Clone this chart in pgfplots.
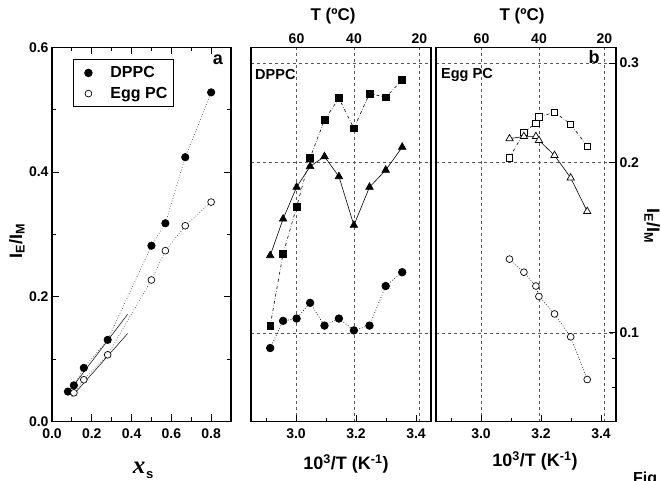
\documentclass[border=0pt]{standalone}
\usepackage{fontspec}
\setmainfont{Liberation Sans}
\newfontfamily\seriffont{Liberation Serif}
\usepackage{pgfplots}
\pgfplotsset{compat=1.18}

\pgfplotsset{
  panel/.style={
    scale only axis, height=374pt, anchor=south west,
    axis line style={line width=1.2pt},
    tick style={line width=0.9pt, black},
    tick align=inside, major tick length=7pt, minor tick length=4pt,
    tick label style={font=\fontsize{14}{14}\selectfont\bfseries},
    xticklabel style={yshift=-4pt},
    /pgf/number format/assume math mode=true,
    major grid style={dashed, gray!70!black, line width=0.5pt},
  },
  filled/.style={mark options={solid, fill=black, draw=black}},
  open/.style={mark options={solid, fill=white, draw=black, line width=0.7pt}},
}
\def\lymin{0.0697}
\def\lymax{0.3196}

\begin{document}
\begin{tikzpicture}
\path[use as bounding box] (0pt,0pt) rectangle (661pt,481pt);

% ---- panel a ----
\begin{axis}[panel, at={(52pt,59.5pt)}, width=179pt,
  xmin=0, xmax=0.9, ymin=0, ymax=0.6,
  xtick={0,0.2,0.4,0.6,0.8}, xticklabels={0.0,0.2,0.4,0.6,0.8},
  minor xtick={0.1,0.3,0.5,0.7},
  ytick={0,0.2,0.4,0.6}, yticklabels={0.0,0.2,0.4,0.6},
  minor ytick={0.1,0.3,0.5},
  legend style={at={(0.117,0.969)}, anchor=north west, draw=black,
    line width=1pt, font=\fontsize{16}{16}\selectfont\bfseries,
    inner xsep=4pt, inner ysep=5pt, row sep=4pt},
  legend cell align=left,
  legend image code/.code={\path[draw=none] (0pt,0pt) -- (31pt,0pt); \draw[#1, draw=none] plot coordinates {(11pt,0pt)};},
]
\addlegendimage{only marks, mark=*, mark size=3.7pt, filled}
\addlegendentry{DPPC}
\addlegendimage{only marks, mark=*, mark size=3.4pt, open}
\addlegendentry{Egg PC}
% DPPC
\addplot[forget plot, dotted, gray!60!black, line width=0.7pt, mark=*, mark size=3.7pt, filled]
  coordinates {(0.08,0.048) (0.11,0.058) (0.16,0.086) (0.28,0.131) (0.50,0.282) (0.57,0.318) (0.67,0.424) (0.80,0.528)};
% Egg PC
\addplot[forget plot, dotted, gray!60!black, line width=0.7pt, mark=*, mark size=3.4pt, open]
  coordinates {(0.11,0.046) (0.16,0.067) (0.28,0.107) (0.50,0.227) (0.57,0.274) (0.67,0.314) (0.80,0.352)};
% linear fits
\addplot[forget plot, black, line width=0.5pt] coordinates {(0.09,0.050) (0.38,0.172)};
\addplot[forget plot, black, line width=0.5pt] coordinates {(0.10,0.040) (0.38,0.141)};
\end{axis}

% ---- middle panel (DPPC) ----
\begin{axis}[panel, at={(251pt,59.5pt)}, width=180pt,
  xmin=2.85, xmax=3.45, ymode=log, ymin=\lymin, ymax=\lymax,
  axis line style={draw=none},
  xtick={3.0017,3.1934,3.4112}, xticklabels={60,40,20},
  xtick pos=top, xticklabel pos=top, xtick style={draw=none},
  xticklabel style={yshift=4pt},
  xmajorgrids, ytick=\empty]
\end{axis}
\begin{axis}[panel, at={(251pt,59.5pt)}, width=180pt,
  xmin=2.85, xmax=3.45, ymode=log, ymin=\lymin, ymax=\lymax,
  xtick={3.0,3.2,3.4}, xticklabels={3.0,3.2,3.4},
  minor xtick={2.9,3.1,3.3}, xtick pos=bottom,
  ytick={0.1,0.2,0.3}, yticklabels={}, ytick style={draw=none},
  ymajorgrids]
\addplot[black, dash dot, line width=0.6pt, mark=square*, mark size=3.4pt, filled]
  coordinates {(2.914,0.103) (2.957,0.138) (3.002,0.167) (3.047,0.204) (3.095,0.238)
               (3.143,0.260) (3.193,0.230) (3.245,0.265) (3.299,0.261) (3.354,0.280)};
\addplot[black, solid, line width=0.6pt, mark=triangle*, mark size=4.4pt, filled]
  coordinates {(2.914,0.137) (2.957,0.159) (3.002,0.181) (3.047,0.197) (3.095,0.205)
               (3.143,0.189) (3.193,0.155) (3.245,0.181) (3.299,0.194) (3.354,0.213)};
\addplot[black, dotted, line width=0.7pt, mark=*, mark size=3.8pt, filled]
  coordinates {(2.914,0.094) (2.957,0.105) (3.002,0.106) (3.047,0.113) (3.095,0.103)
               (3.143,0.106) (3.193,0.101) (3.245,0.103) (3.299,0.121) (3.354,0.128)};
\end{axis}

% ---- right panel (Egg PC) ----
\begin{axis}[panel, at={(436pt,59.5pt)}, width=180pt,
  xmin=2.85, xmax=3.45, ymode=log, ymin=\lymin, ymax=\lymax,
  axis line style={draw=none},
  xtick={3.0017,3.1934,3.4112}, xticklabels={60,40,20},
  xtick pos=top, xticklabel pos=top, xtick style={draw=none},
  xticklabel style={yshift=4pt},
  xmajorgrids, ytick=\empty]
\end{axis}
\begin{axis}[panel, at={(436pt,59.5pt)}, width=180pt,
  xmin=2.85, xmax=3.45, ymode=log, ymin=\lymin, ymax=\lymax,
  xtick={3.0,3.2,3.4}, xticklabels={3.0,3.2,3.4},
  minor xtick={2.9,3.1,3.3}, xtick pos=bottom,
  ytick={0.1,0.2,0.3}, yticklabels={0.1,0.2,0.3},
  minor ytick={0.08,0.09},
  ytick pos=right, yticklabel pos=right,
  ymajorgrids]
\addplot[black, dash dot, line width=0.6pt, mark=square*, mark size=3.1pt, open]
  coordinates {(3.095,0.204) (3.143,0.226) (3.183,0.235) (3.193,0.241) (3.245,0.2455) (3.299,0.234) (3.354,0.214)};
\addplot[black, solid, line width=0.6pt, mark=triangle*, mark size=4.2pt, open]
  coordinates {(3.095,0.2205) (3.143,0.2225) (3.183,0.2225) (3.193,0.219) (3.245,0.206) (3.299,0.188) (3.354,0.164)};
\addplot[black, dotted, line width=0.7pt, mark=*, mark size=3.4pt, open]
  coordinates {(3.095,0.135) (3.143,0.128) (3.183,0.121) (3.193,0.116) (3.245,0.108) (3.299,0.0984) (3.354,0.0827)};
\end{axis}

% ---- texts ----
\begin{scope}[every node/.style={inner sep=0pt, font=\bfseries}]
\node[anchor=base, font=\fontsize{18}{18}\selectfont\bfseries] at (218pt,416pt) {a};
\node[anchor=base, font=\fontsize{18}{18}\selectfont\bfseries] at (594pt,417pt) {b};
\node[anchor=base west, font=\fontsize{14.5}{14.5}\selectfont\bfseries] at (255pt,401pt) {DPPC};
\node[anchor=base west, font=\fontsize{14.5}{14.5}\selectfont\bfseries] at (441pt,402pt) {Egg PC};
\node[anchor=base, font=\fontsize{17}{17}\selectfont\bfseries] at (333pt,460.5pt) {T (ºC)};
\node[anchor=base, font=\fontsize{17}{17}\selectfont\bfseries] at (522pt,460.5pt) {T (ºC)};
\node[anchor=base, font=\fontsize{18}{18}\selectfont\bfseries] at (346pt,11pt) {10\textsuperscript{3}/T (K\textsuperscript{-1})};
\node[anchor=base, font=\fontsize{18}{18}\selectfont\bfseries] at (535pt,14pt) {10\textsuperscript{3}/T (K\textsuperscript{-1})};
\node[anchor=base, font=\fontsize{25}{25}\selectfont\seriffont\bfseries\itshape] at (139pt,7pt) {x};
\node[anchor=base west, font=\fontsize{13}{13}\selectfont\bfseries] at (146pt,2pt) {s};
\node[anchor=base, rotate=90, font=\fontsize{18}{18}\selectfont\bfseries] at (22pt,240pt) {I\textsubscript{E}/I\textsubscript{M}};
\node[anchor=base, rotate=-90, font=\fontsize{18}{18}\selectfont\bfseries] at (647pt,255pt) {I\textsubscript{E}/I\textsubscript{M}};
\node[anchor=base west, font=\fontsize{16}{16}\selectfont\bfseries] at (633pt,-3pt) {Fig};
\end{scope}
\end{tikzpicture}
\end{document}
